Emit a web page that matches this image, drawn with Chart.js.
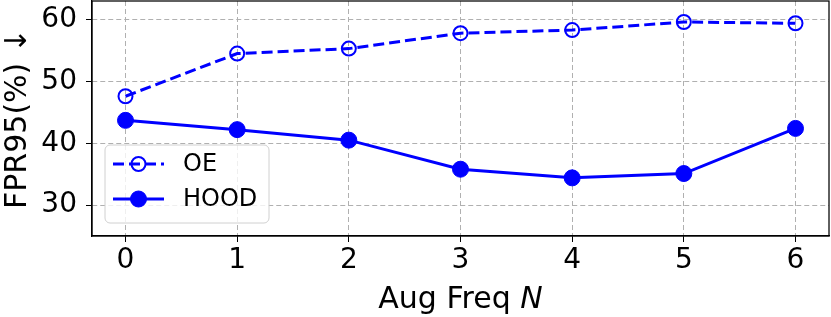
<!DOCTYPE html>
<html>
<head>
<meta charset="utf-8">
<script src="https://cdn.jsdelivr.net/npm/chart.js@4"></script>
<style>
  html, body { margin: 0; padding: 0; background: #fff; }
  #wrap { width: 831px; height: 317px; }
</style>
</head>
<body>
<div id="wrap"><canvas id="chart" width="831" height="317"></canvas></div>
<script>
// values
var augFreq = [0, 1, 2, 3, 4, 5, 6];
var oeValues = [47.6, 54.5, 55.3, 57.8, 58.3, 59.6, 59.4];
var hoodValues = [43.7, 42.2, 40.5, 35.8, 34.4, 35.1, 42.4];
var yTicks = [30, 40, 50, 60];
var xTicks = [0, 1, 2, 3, 4, 5, 6];

var FONT = "'DejaVu Sans', sans-serif";
var BLUE = '#0000ff';

function toPoints(vals) {
  return augFreq.map(function(x, i) { return { x: x, y: vals[i] }; });
}

function noPad(scale) {
  scale.paddingLeft = 0; scale.paddingRight = 0;
  scale.paddingTop = 0; scale.paddingBottom = 0;
}

// box round the plot area (top and right too)
var frame = {
  id: 'frame',
  afterDatasetsDraw: function(chart) {
    var a = chart.chartArea, ctx = chart.ctx;
    ctx.save();
    ctx.strokeStyle = '#000';
    ctx.lineWidth = 1.25;
    ctx.strokeRect(a.left, a.top, a.right - a.left, a.bottom - a.top);
    ctx.restore();
  }
};

// legend inside the plot, lower left
var innerLegend = {
  id: 'innerLegend',
  afterDraw: function(chart) {
    var ctx = chart.ctx;
    var x = 105, y = 145, w = 164, h = 78, r = 5;
    ctx.save();
    ctx.beginPath();
    ctx.moveTo(x + r, y);
    ctx.arcTo(x + w, y, x + w, y + h, r);
    ctx.arcTo(x + w, y + h, x, y + h, r);
    ctx.arcTo(x, y + h, x, y, r);
    ctx.arcTo(x, y, x + w, y, r);
    ctx.closePath();
    ctx.fillStyle = 'rgba(255,255,255,0.8)';
    ctx.fill();
    ctx.strokeStyle = '#d0d0d0';
    ctx.lineWidth = 1;
    ctx.stroke();

    chart.data.datasets.forEach(function(ds, i) {
      var cy = 164 + i * 35;
      ctx.beginPath();
      ctx.setLineDash(ds.borderDash || []);
      ctx.strokeStyle = ds.borderColor;
      ctx.lineWidth = ds.borderWidth;
      ctx.moveTo(113, cy);
      ctx.lineTo(164, cy);
      ctx.stroke();
      ctx.setLineDash([]);
      ctx.beginPath();
      ctx.arc(138.5, cy, ds.pointRadius, 0, Math.PI * 2);
      ctx.fillStyle = ds.pointBackgroundColor;
      ctx.fill();
      ctx.lineWidth = ds.pointBorderWidth;
      ctx.stroke();
      ctx.fillStyle = '#000';
      ctx.font = '24px ' + FONT;
      ctx.textBaseline = 'middle';
      ctx.fillText(ds.label, 183, cy + 1);
    });
    ctx.restore();
  }
};

// x title with italic N
var xTitle = {
  id: 'xTitle',
  afterDraw: function(chart) {
    var a = chart.chartArea, ctx = chart.ctx;
    var plain = 'Aug Freq ', ital = 'N';
    ctx.save();
    ctx.fillStyle = '#000';
    ctx.textBaseline = 'alphabetic';
    ctx.font = '30px ' + FONT;
    var w1 = ctx.measureText(plain).width;
    ctx.font = 'italic 30px ' + FONT;
    var w2 = ctx.measureText(ital).width;
    var sx = (a.left + a.right) / 2 - (w1 + w2) / 2;
    ctx.font = '30px ' + FONT;
    ctx.fillText(plain, sx, 308);
    ctx.font = 'italic 30px ' + FONT;
    ctx.fillText(ital, sx + w1, 308);
    ctx.restore();
  }
};

new Chart(document.getElementById('chart'), {
  type: 'line',
  data: {
    datasets: [
      {
        label: 'OE',
        data: toPoints(oeValues),
        borderColor: BLUE,
        borderWidth: 3,
        borderDash: [11, 5],
        pointRadius: 7,
        pointBorderWidth: 2,
        pointBackgroundColor: 'rgba(255,255,255,0)',
        pointBorderColor: BLUE,
        tension: 0
      },
      {
        label: 'HOOD',
        data: toPoints(hoodValues),
        borderColor: BLUE,
        borderWidth: 3,
        pointRadius: 8,
        pointBorderWidth: 1,
        pointBackgroundColor: BLUE,
        pointBorderColor: BLUE,
        tension: 0
      }
    ]
  },
  options: {
    responsive: false,
    animation: false,
    devicePixelRatio: 1,
    layout: { autoPadding: false, padding: { top: 1, right: 2, left: 0, bottom: 0 } },
    plugins: { legend: { display: false }, tooltip: { enabled: false } },
    scales: {
      x: {
        type: 'linear',
        min: -0.3,
        max: 6.3,
        afterBuildTicks: function(scale) {
          scale.ticks = xTicks.map(function(v) { return { value: v }; });
        },
        afterFit: function(scale) { scale.height = 81; noPad(scale); },
        ticks: { color: '#000', font: { family: FONT, size: 28 }, padding: 2 },
        grid: { color: '#b0b0b0', lineWidth: 1, tickColor: '#000', tickLength: 6, tickWidth: 1 },
        border: { color: '#000', width: 1.25, dash: [5, 3] }
      },
      y: {
        min: 25,
        max: 63,
        afterBuildTicks: function(scale) {
          scale.ticks = yTicks.map(function(v) { return { value: v }; });
        },
        afterFit: function(scale) { scale.width = 92; noPad(scale); },
        ticks: { color: '#000', font: { family: FONT, size: 28 }, padding: 9 },
        grid: { color: '#b0b0b0', lineWidth: 1, tickColor: '#000', tickLength: 6, tickWidth: 1 },
        border: { color: '#000', width: 1.25, dash: [5, 3] },
        title: {
          display: true,
          text: 'FPR95(%) \u2193',
          color: '#000',
          font: { family: FONT, size: 30 },
          padding: { top: 0, bottom: 0 }
        }
      }
    }
  },
  plugins: [frame, innerLegend, xTitle]
});
</script>
</body>
</html>
